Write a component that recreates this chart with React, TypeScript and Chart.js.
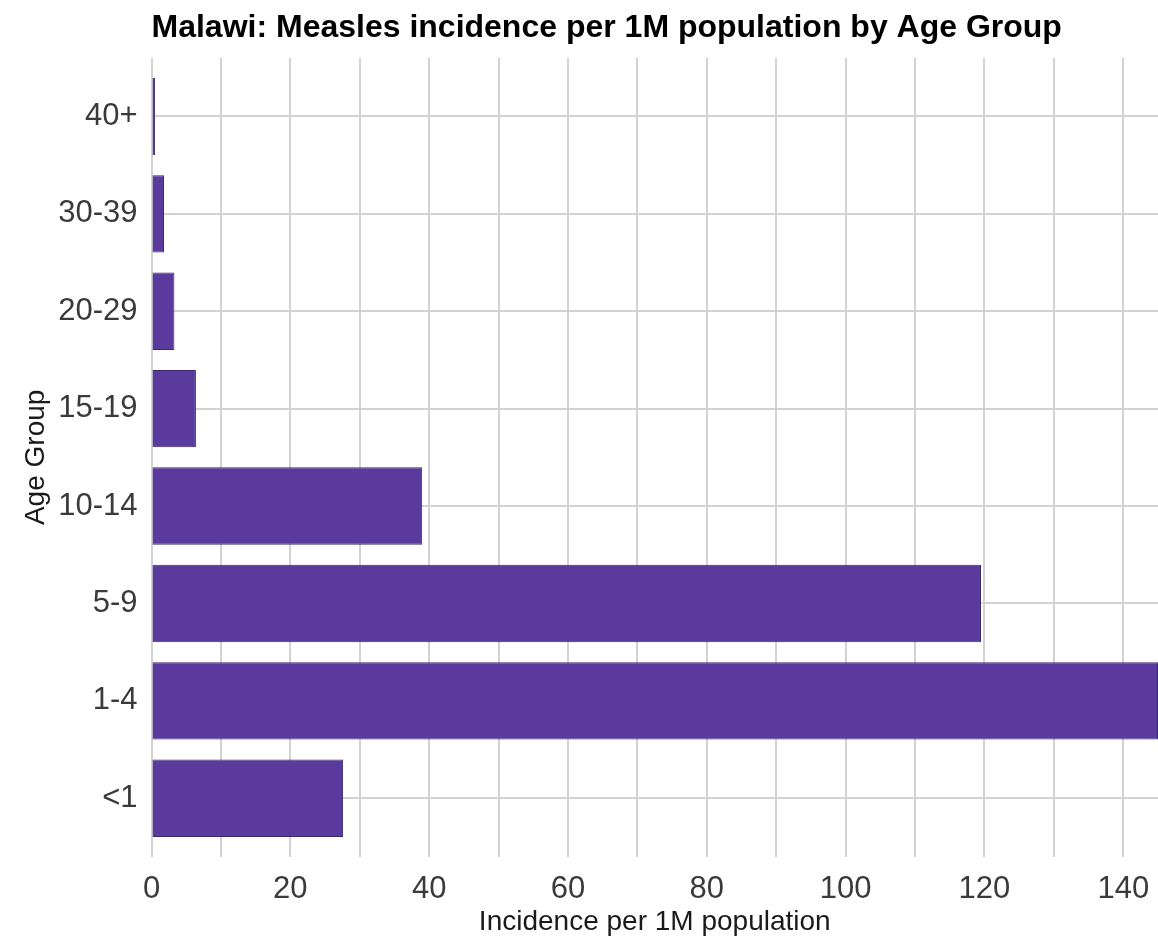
import React, { useEffect, useRef } from "react";
import { Chart, registerables } from "chart.js";

Chart.register(...registerables);

const TITLE = "Malawi: Measles incidence per 1M population by Age Group";
const X_TITLE = "Incidence per 1M population";
const Y_TITLE = "Age Group";
const categories = ["<1", "1-4", "5-9", "10-14", "15-19", "20-29", "30-39", "40+"];
const incidence = [27.6, 145, 119.5, 39.0, 6.4, 3.3, 1.8, 0.5];
const xTickLabels = [0, 20, 40, 60, 80, 100, 120, 140];

const FONT = '"Liberation Sans", Arial, Helvetica, sans-serif';

export default function App() {
  const ref = useRef<HTMLCanvasElement | null>(null);

  useEffect(() => {
    const canvas = ref.current;
    if (!canvas) return;

    const titlePlugin = {
      id: "leftTitle",
      afterDraw(chart: any) {
        const ctx = chart.ctx;
        ctx.save();
        ctx.font = `bold 32px ${FONT}`;
        ctx.fillStyle = "#000000";
        ctx.textAlign = "left";
        ctx.textBaseline = "alphabetic";
        ctx.fillText(TITLE, chart.chartArea.left, 37);
        ctx.restore();
      },
    };

    const chart = new Chart(canvas, {
      type: "bar",
      data: {
        datasets: [
          {
            label: "Incidence",
            data: categories.map((c, i) => ({ x: incidence[i], y: i })),
            backgroundColor: "#5a3b9d",
            borderColor: "#3a2870",
            borderWidth: 1,
            categoryPercentage: 1,
            barPercentage: 0.795,
          },
        ],
      },
      options: {
        indexAxis: "y",
        animation: false,
        responsive: false,
        maintainAspectRatio: false,
        layout: { padding: { top: 58, left: 0, right: 0, bottom: 0 } },
        plugins: {
          legend: { display: false },
          tooltip: { enabled: false },
          title: { display: false },
        },
        scales: {
          x: {
            type: "linear",
            min: 0,
            max: 145,
            border: { display: false },
            grid: { color: "#d2d2d2", lineWidth: 2, drawTicks: false },
            ticks: {
              stepSize: 10,
              includeBounds: false,
              maxRotation: 0,
              autoSkip: false,
              padding: 14,
              color: "#3a3a3a",
              font: { family: FONT, size: 31 },
              callback: (v: any) => (xTickLabels.includes(Number(v)) ? String(v) : ""),
            },
            title: {
              display: true,
              text: X_TITLE,
              color: "#1a1a1a",
              font: { family: FONT, size: 28, lineHeight: 1.2 },
              padding: { top: 0, bottom: 0 },
            },
            afterFit: (scale: any) => {
              scale.height = 82.3;
              scale.paddingLeft = 0;
              scale.paddingRight = 0;
            },
          },
          y: {
            type: "linear",
            min: -0.6,
            max: 7.6,
            offset: false,
            border: { display: false },
            grid: { color: "#d2d2d2", lineWidth: 2, drawTicks: false, offset: false },
            ticks: {
              stepSize: 1,
              includeBounds: false,
              autoSkip: false,
              padding: 14,
              color: "#3a3a3a",
              font: { family: FONT, size: 31 },
              callback: (v: any) => categories[Number(v)] ?? "",
            },
            title: {
              display: true,
              text: Y_TITLE,
              color: "#1a1a1a",
              font: { family: FONT, size: 28, lineHeight: 1.2 },
              padding: { top: 19, bottom: 0 },
            },
            afterFit: (scale: any) => {
              scale.width = 151.5;
              scale.paddingTop = 0;
              scale.paddingBottom = 0;
            },
          },
        },
      },
      plugins: [titlePlugin],
    } as any);

    return () => chart.destroy();
  }, []);

  return (
    <div style={{ position: "fixed", left: 0, top: 0, width: 1158, height: 939, background: "#ffffff" }}>
      <canvas ref={ref} width={1158} height={939} style={{ width: 1158, height: 939, display: "block" }} />
    </div>
  );
}
